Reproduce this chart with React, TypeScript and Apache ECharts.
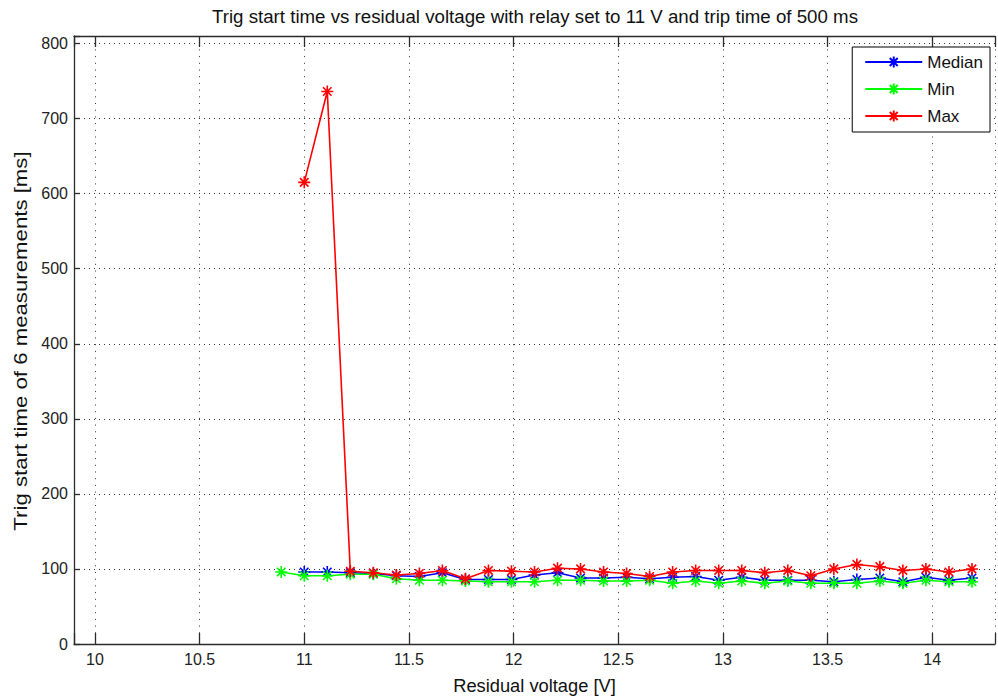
import React, { useEffect, useRef } from "react";
import * as echarts from "echarts";

// Residual voltage steps [V]
const voltsMin = [10.89, 11.0, 11.11, 11.22, 11.33, 11.44, 11.55, 11.66, 11.77, 11.88, 11.99, 12.1, 12.21, 12.32, 12.43, 12.54, 12.65, 12.76, 12.87, 12.98, 13.09, 13.2, 13.31, 13.42, 13.53, 13.64, 13.75, 13.86, 13.97, 14.08, 14.19];
const volts = [11.0, 11.11, 11.22, 11.33, 11.44, 11.55, 11.66, 11.77, 11.88, 11.99, 12.1, 12.21, 12.32, 12.43, 12.54, 12.65, 12.76, 12.87, 12.98, 13.09, 13.2, 13.31, 13.42, 13.53, 13.64, 13.75, 13.86, 13.97, 14.08, 14.19];

// Trig start times [ms]
const medianMs = [96, 96, 95, 94, 91, 90, 95, 86, 86, 86, 92, 95, 88, 88, 89, 87, 89, 90, 85, 89, 85, 85, 85, 83, 86, 88, 83, 89, 85, 88];
const minMs = [96, 91, 91, 93, 93, 87, 85, 85, 84, 83, 83, 83, 85, 85, 84, 84, 85, 81, 84, 81, 84, 81, 84, 81, 81, 81, 84, 81, 85, 83, 83];
const maxMs = [615, 736, 97, 95, 92, 94, 98, 87, 98, 97, 96, 101, 100, 96, 94, 90, 96, 98, 98, 98, 95, 98, 91, 100, 106, 103, 98, 100, 96, 100];

const seriesNames = ["Median", "Min", "Max"];
const seriesColors = ["#0000ff", "#00ff00", "#ff0000"];

const titleText = "Trig start time vs residual voltage with relay set to 11 V and trip time of 500 ms";
const xName = "Residual voltage [V]";
const yName = "Trig start time of 6 measurements [ms]";

const FONT = "'Liberation Sans', Arial, Helvetica, sans-serif";
const ASTERISK = "path://M5 0L5 10M0 5L10 5M1.46 1.46L8.54 8.54M1.46 8.54L8.54 1.46";
const AXIS_COLOR = "#2b2b2b";

function pairs(xs: number[], ys: number[]) {
  return xs.map((x, i) => [x, ys[i]]);
}

export default function App() {
  const ref = useRef<HTMLDivElement>(null);

  useEffect(() => {
    if (!ref.current) return;
    const chart = echarts.init(ref.current, undefined, { renderer: "svg" });

    const seriesData = [pairs(volts, medianMs), pairs(voltsMin, minMs), pairs(volts, maxMs)];

    const mkSeries = (i: number) => ({
      name: seriesNames[i],
      type: "line",
      xAxisIndex: 0,
      yAxisIndex: 0,
      data: seriesData[i],
      symbol: ASTERISK,
      symbolSize: 12,
      showSymbol: true,
      lineStyle: { color: seriesColors[i], width: 1.6 },
      itemStyle: { color: seriesColors[i], borderColor: seriesColors[i], borderWidth: 1.6 },
      emphasis: { disabled: true },
      z: 2 + i,
    });

    const hideOffTicks = (v: number) =>
      Math.abs(v * 2 - Math.round(v * 2)) > 1e-6 ? "" : String(v);

    chart.setOption({
      animation: false,
      backgroundColor: "#ffffff",
      textStyle: { fontFamily: FONT },
      grid: { left: 74, top: 36, bottom: 53, right: -3, containLabel: false },
      graphic: [
        {
          type: "text",
          x: 535,
          y: 16,
          style: {
            text: titleText,
            font: `18.7px ${FONT}`,
            fill: "#111",
            textAlign: "center",
            textVerticalAlign: "middle",
          },
        },
        {
          // y-axis title, stretched along its length
          type: "text",
          x: 20,
          y: 341,
          rotation: Math.PI / 2,
          scaleX: 1.17,
          style: {
            text: yName,
            font: `19px ${FONT}`,
            fill: "#111",
            textAlign: "center",
            textVerticalAlign: "middle",
          },
        },
      ],
      legend: {
        orient: "vertical",
        right: 8,
        top: 47,
        align: "left",
        itemWidth: 57,
        itemHeight: 14,
        itemGap: 7,
        padding: [5, 7, 6, 12],
        borderColor: "#000",
        borderWidth: 1,
        borderRadius: 0,
        backgroundColor: "#fff",
        textStyle: { fontSize: 17, color: "#111", fontFamily: FONT, lineHeight: 20 },
        data: seriesNames,
      },
      xAxis: [
        {
          type: "value",
          min: 9.9,
          max: 14.3,
          splitNumber: 9,
          name: xName,
          nameLocation: "middle",
          nameGap: 32,
          nameTextStyle: { fontSize: 18.3, color: "#111", fontFamily: FONT },
          axisLine: { show: true, lineStyle: { color: AXIS_COLOR, width: 1.3 } },
          axisTick: { show: true, inside: true, length: 11, lineStyle: { color: AXIS_COLOR, width: 1.3 } },
          axisLabel: { fontSize: 16, color: "#222", margin: 7, formatter: hideOffTicks, fontFamily: FONT },
          splitLine: { show: true, lineStyle: { color: "#333", width: 1, type: [1, 5.7] } },
        },
        {
          type: "value",
          position: "top",
          min: 9.9,
          max: 14.3,
          splitNumber: 9,
          axisLine: { show: true, lineStyle: { color: AXIS_COLOR, width: 1.3 } },
          axisTick: { show: true, inside: true, length: 11, lineStyle: { color: AXIS_COLOR, width: 1.3 } },
          axisLabel: { show: false },
          splitLine: { show: false },
        },
      ],
      yAxis: [
        {
          type: "value",
          min: 0,
          max: 810,
          interval: 100,
          axisLine: { show: true, lineStyle: { color: AXIS_COLOR, width: 1.3 } },
          axisTick: { show: true, inside: true, length: 6, lineStyle: { color: AXIS_COLOR, width: 1.3 } },
          axisLabel: {
            fontSize: 16,
            color: "#222",
            margin: 6,
            fontFamily: FONT,
            formatter: (v: number) => (v % 100 === 0 ? String(v) : ""),
          },
          splitLine: { show: true, lineStyle: { color: "#333", width: 1, type: [1, 4] } },
        },
      ],
      series: [mkSeries(0), mkSeries(1), mkSeries(2)],
    });

    return () => chart.dispose();
  }, []);

  return (
    <div
      ref={ref}
      style={{ position: "fixed", left: 0, top: 0, width: 998, height: 699, background: "#fff" }}
    />
  );
}
